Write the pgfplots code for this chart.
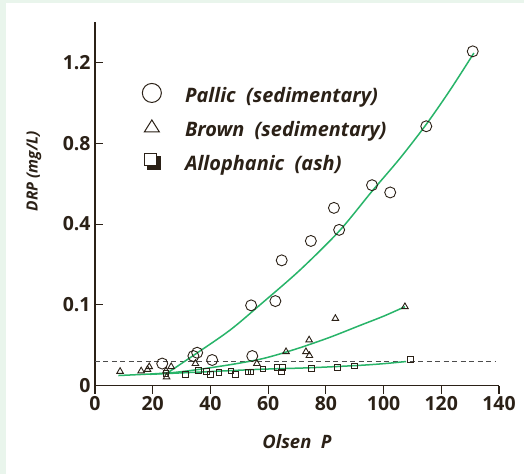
\documentclass[border=0pt]{standalone}
\usepackage{fontspec}
\setmainfont{Open Sans}
\usepackage{pgfplots}
\usepackage{pgfplotstable}
\pgfplotsset{compat=1.18}
\definecolor{ink}{RGB}{43,33,23}
\definecolor{fit}{RGB}{40,180,105}
\definecolor{frame}{RGB}{233,245,236}

% y values are in tick units: the axis is spaced evenly at 0, 0.1, 0.4, 0.8, 1.2
\pgfplotstableread{
x y
23.3 0.274
34.1 0.367
35.4 0.408
40.6 0.318
54.5 0.367
54.1 0.994
62.5 1.047
64.7 1.551
74.8 1.791
84.6 1.928
82.8 2.200
96.0 2.481
102.3 2.391
114.8 3.210
130.9 4.137
}\pallic

\pgfplotstableread{
x y
8.7 0.176
16.0 0.182
18.2 0.200
18.8 0.234
24.6 0.182
24.8 0.108
26.4 0.235
34.8 0.274
56.1 0.274
66.2 0.420
73.1 0.420
74.3 0.373
74.2 0.565
83.3 0.831
107.4 0.977
}\brown

\pgfplotstableread{
x y
24.6 0.151
31.4 0.138
35.8 0.185
38.7 0.178
40.1 0.141
42.9 0.161
47.1 0.182
48.7 0.136
53.0 0.169
54.1 0.169
58.2 0.209
63.1 0.225
65.0 0.225
64.6 0.169
75.1 0.213
84.1 0.227
89.9 0.244
109.4 0.326
}\allophanic

\pgfplotstableread{
x y
24.8 0.151
34.3 0.379
46.8 0.688
57.9 1.022
71.0 1.430
84.6 1.912
96.0 2.406
105.7 2.814
114.8 3.234
123.0 3.655
131.3 4.116
}\pallicfit

\pgfplotstableread{
x y
8.1 0.126
27.1 0.163
43.3 0.240
57.5 0.330
69.3 0.450
81.1 0.595
92.5 0.755
100.0 0.860
107.4 0.977
}\brownfit

\pgfplotstableread{
x y
19.1 0.141
36.4 0.169
57.2 0.203
74.5 0.222
91.8 0.252
100.5 0.274
107.8 0.299
}\allophanicfit

\begin{document}
\begin{tikzpicture}
\fill[frame] (-95bp,-88.3bp) rectangle (429bp,385.7bp);
\fill[white] (-89bp,-88.3bp) rectangle (429bp,382.4bp);
\path[use as bounding box] (-95bp,-88.3bp) rectangle (429bp,385.7bp);
\begin{axis}[
  at={(0,0)}, anchor=south west,
  scale only axis, width=404bp, height=363.7bp,
  xmin=0, xmax=140, ymin=0, ymax=4.5,
  axis lines=left,
  axis line style={ink, line width=1.3bp, -},
  xtick={0,20,...,140},
  ytick={0,1,2,3,4},
  yticklabels={0,0.1,0.4,0.8,1.2},
  tick align=inside,
  major tick length=8bp,
  tick style={ink, line width=1.1bp},
  xtick style={yshift=-8bp},
  ticklabel style={font=\fontsize{19.5}{19.5}\selectfont\bfseries, text=ink},
  xticklabel style={yshift=-7bp},
  yticklabel style={xshift=-1bp},
  /pgf/number format/assume math mode=true,
  xlabel={Olsen\ \ P},
  ylabel={DRP (mg/L)},
  xlabel style={at={(rel axis cs:0.5,0)}, anchor=center, yshift=-56bp,
    font=\fontsize{18.5}{18.5}\selectfont\bfseries\itshape, text=ink},
  ylabel style={at={(rel axis cs:0,0.59)}, anchor=center, yshift=61bp,
    font=\fontsize{15.5}{15.5}\selectfont\bfseries\itshape, text=ink},
  clip=false,
  legend style={at={(rel axis cs:0.115,0.833)}, anchor=north west,
    draw=none, fill=none, inner sep=0pt, row sep=13bp,
    font=\fontsize{20}{20}\selectfont\bfseries\itshape, text=ink,
    nodes={inner sep=0pt, text height=13bp, text depth=4bp}},
  legend cell align=left,
]
\addplot[gray!60!black, line width=0.9bp, dash pattern=on 5bp off 3.5bp, forget plot]
  coordinates {(0,0.297) (138.6,0.297)};

\addplot[fit, line width=1.5bp, smooth, forget plot] table {\pallicfit};
\addplot[fit, line width=1.5bp, smooth, forget plot] table {\brownfit};
\addplot[fit, line width=1.5bp, smooth, forget plot] table {\allophanicfit};

\addplot[only marks, mark=o, mark size=5.5bp, mark options={ink, line width=0.9bp}, forget plot]
  table {\pallic};
\addplot[only marks, mark=triangle, mark size=3.8bp, mark options={ink, line width=0.9bp}, forget plot]
  table {\brown};
\addplot[only marks, mark=square, mark size=2.8bp, mark options={ink, line width=0.9bp}, forget plot]
  table {\allophanic};

\addlegendimage{legend image code/.code={
  \draw[ink, line width=1bp] (0,5bp) circle (9.5bp);
  \path (-10bp,0) (33bp,0);}}
\addlegendentry{Pallic\ \ (sedimentary)}
\addlegendimage{legend image code/.code={
  \draw[ink, line width=1bp] (-7.5bp,0bp) -- (7.5bp,0bp) -- (0,12bp) -- cycle;
  \path (-10bp,0) (33bp,0);}}
\addlegendentry{Brown\ \ (sedimentary)}
\addlegendimage{legend image code/.code={
  \fill[ink] (-4.5bp,-3bp) rectangle (8bp,9.5bp);
  \filldraw[fill=white, draw=ink, line width=1bp] (-7bp,0bp) rectangle (5bp,12bp);
  \path (-10bp,0) (29bp,0);}}
\addlegendentry{Allophanic\ \ (ash)}
\end{axis}
\end{tikzpicture}
\end{document}
